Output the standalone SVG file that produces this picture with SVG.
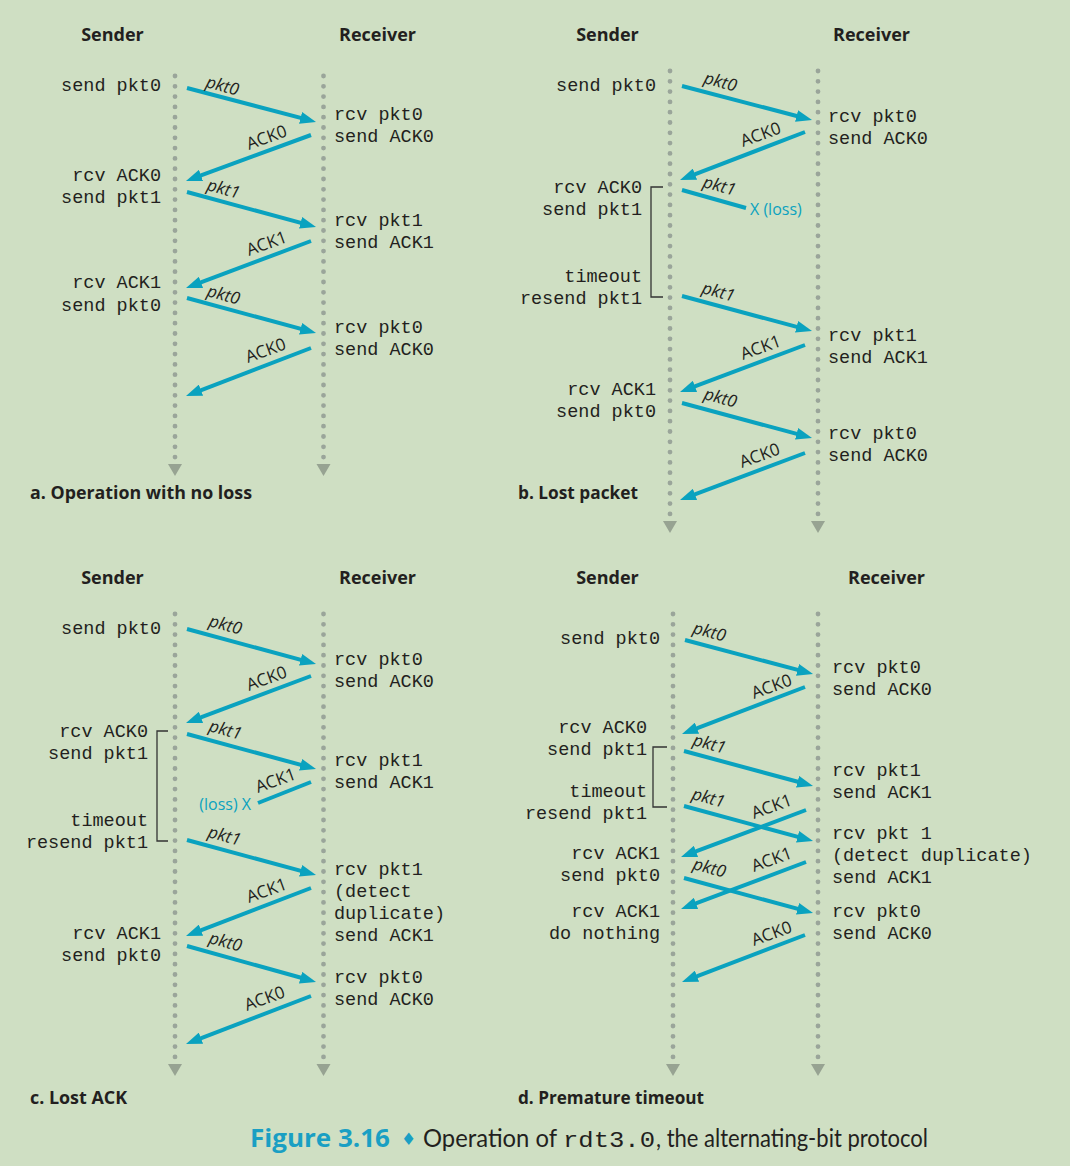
<svg xmlns="http://www.w3.org/2000/svg" width="1070" height="1166" viewBox="0 0 1070 1166">
<defs>
<style>
.bg{fill:#cfdfc3}
.hd{font-family:"Open Sans","Liberation Sans",sans-serif;font-weight:bold;font-size:18px;fill:#231f20;text-anchor:middle}
.sub{font-family:"Open Sans","Liberation Sans",sans-serif;font-weight:bold;font-size:18px;fill:#231f20}
.m{font-family:"Liberation Mono","DejaVu Sans Mono",monospace;font-size:18.5px;fill:#231f20}
.r{text-anchor:end}
.pk{font-family:"Open Sans","Liberation Sans",sans-serif;font-style:italic;font-size:17px;fill:#231f20}
.ak{font-family:"Open Sans","Liberation Sans",sans-serif;font-size:17px;fill:#231f20}
.ls{font-family:"Open Sans","Liberation Sans",sans-serif;font-size:16px;fill:#0aa2bf}
.life{stroke:#9aa59a;stroke-width:4.8;stroke-linecap:round;stroke-dasharray:0 10.3;fill:none}
.tri{fill:#97a392}
.ar{stroke:#0aa2bf;stroke-width:4;fill:none;marker-end:url(#ah)}
.lo{stroke:#0aa2bf;stroke-width:4;fill:none}
.br{stroke:#333;stroke-width:1.3;fill:none}
</style>
<marker id="ah" viewBox="0 0 16 12" refX="8" refY="6" markerWidth="16" markerHeight="12" markerUnits="userSpaceOnUse" orient="auto">
<path d="M0,0 L16,6 L0,12 z" fill="#0aa2bf"/>
</marker>
</defs>
<rect class="bg" x="0" y="0" width="1070" height="1166"/>

<!-- Lifelines -->
<g id="lifelines">
<line class="life" x1="175" y1="76" x2="175" y2="459"/>
<line class="life" x1="323.5" y1="76" x2="323.5" y2="459"/>
<path class="tri" d="M168,464 L182,464 L175,476 z"/>
<path class="tri" d="M316.5,464 L330.5,464 L323.5,476 z"/>
<line class="life" x1="670" y1="71" x2="670" y2="514"/>
<line class="life" x1="818" y1="71" x2="818" y2="514"/>
<path class="tri" d="M663,521 L677,521 L670,533 z"/>
<path class="tri" d="M811,521 L825,521 L818,533 z"/>
<line class="life" x1="175" y1="614" x2="175" y2="1058"/>
<line class="life" x1="323.5" y1="614" x2="323.5" y2="1058"/>
<path class="tri" d="M168,1064 L182,1064 L175,1076 z"/>
<path class="tri" d="M316.5,1064 L330.5,1064 L323.5,1076 z"/>
<line class="life" x1="673" y1="614" x2="673" y2="1058"/>
<line class="life" x1="818" y1="614" x2="818" y2="1058"/>
<path class="tri" d="M666,1064 L680,1064 L673,1076 z"/>
<path class="tri" d="M811,1064 L825,1064 L818,1076 z"/>
</g>

<!-- Headers -->
<g id="headers">
<text class="hd" x="112.5" y="41">Sender</text>
<text class="hd" x="377.5" y="41">Receiver</text>
<text class="hd" x="607.5" y="41">Sender</text>
<text class="hd" x="871.5" y="41">Receiver</text>
<text class="hd" x="112.5" y="584">Sender</text>
<text class="hd" x="377.5" y="584">Receiver</text>
<text class="hd" x="607.5" y="584">Sender</text>
<text class="hd" x="886.5" y="584">Receiver</text>
</g>

<!-- Connectors -->
<g id="connectors">
<line class="ar" x1="187" y1="88" x2="308.3" y2="119.9"/>
<line class="ar" x1="311" y1="135" x2="193.5" y2="178.2"/>
<line class="ar" x1="187" y1="192" x2="308.3" y2="224.9"/>
<line class="ar" x1="311" y1="241" x2="193.5" y2="285.2"/>
<line class="ar" x1="187" y1="298" x2="308.3" y2="330.9"/>
<line class="ar" x1="311" y1="348" x2="193.5" y2="393.1"/>

<line class="ar" x1="682" y1="86" x2="804.3" y2="118"/>
<line class="ar" x1="805" y1="132" x2="687.5" y2="177.1"/>
<line class="lo" x1="682" y1="190" x2="746" y2="208"/>
<line class="ar" x1="682" y1="296" x2="804.3" y2="328.9"/>
<line class="ar" x1="805" y1="345" x2="687.5" y2="389.2"/>
<line class="ar" x1="682" y1="403" x2="804.3" y2="435.9"/>
<line class="ar" x1="805" y1="453" x2="687.5" y2="497.2"/>

<line class="ar" x1="187" y1="629" x2="308.3" y2="661.9"/>
<line class="ar" x1="311" y1="676" x2="193.5" y2="720.2"/>
<line class="ar" x1="187" y1="734" x2="308.3" y2="766.9"/>
<line class="lo" x1="311" y1="782" x2="258" y2="803"/>
<line class="ar" x1="187" y1="840" x2="308.3" y2="872.9"/>
<line class="ar" x1="311" y1="888" x2="193.5" y2="933.1"/>
<line class="ar" x1="187" y1="946" x2="308.3" y2="979.8"/>
<line class="ar" x1="311" y1="996" x2="193.5" y2="1041.1"/>

<line class="ar" x1="685" y1="640" x2="805.3" y2="671.9"/>
<line class="ar" x1="805" y1="687" x2="689.5" y2="731.1"/>
<line class="ar" x1="684" y1="751" x2="805.3" y2="783.8"/>
<line class="ar" x1="684" y1="806" x2="805.3" y2="838.9"/>
<line class="ar" x1="806" y1="810" x2="688.5" y2="854.2"/>
<line class="ar" x1="806" y1="862" x2="688.5" y2="906.2"/>
<line class="ar" x1="684" y1="878" x2="805.3" y2="910.9"/>
<line class="ar" x1="805" y1="935" x2="689.5" y2="979.1"/>

<path class="br" d="M663,187 H651 V297 H663"/>
<path class="br" d="M168,731 H157 V841 H168"/>
<path class="br" d="M667,747 H653 V807 H667"/>
</g>

<!-- Connector labels -->
<g id="labels">
<text class="pk" transform="translate(205,87) rotate(15)">pkt0</text>
<text class="ak" transform="translate(249,150) rotate(-20)">ACK0</text>
<text class="pk" transform="translate(206,190) rotate(15)">pkt1</text>
<text class="ak" transform="translate(249,256) rotate(-20)">ACK1</text>
<text class="pk" transform="translate(206,296) rotate(15)">pkt0</text>
<text class="ak" transform="translate(248,363) rotate(-20)">ACK0</text>

<text class="pk" transform="translate(703,83) rotate(15)">pkt0</text>
<text class="ak" transform="translate(743,147) rotate(-20)">ACK0</text>
<text class="pk" transform="translate(702,187) rotate(15)">pkt1</text>
<text class="ls" x="750" y="215">X (loss)</text>
<text class="pk" transform="translate(701,293) rotate(15)">pkt1</text>
<text class="ak" transform="translate(743,360) rotate(-20)">ACK1</text>
<text class="pk" transform="translate(703,399) rotate(15)">pkt0</text>
<text class="ak" transform="translate(742,468) rotate(-20)">ACK0</text>

<text class="pk" transform="translate(208,626) rotate(15)">pkt0</text>
<text class="ak" transform="translate(249,691) rotate(-20)">ACK0</text>
<text class="pk" transform="translate(208,731) rotate(15)">pkt1</text>
<text class="ak" transform="translate(258,793) rotate(-20)">ACK1</text>
<text class="ls r" x="251" y="810">(loss) X</text>
<text class="pk" transform="translate(207,837) rotate(15)">pkt1</text>
<text class="ak" transform="translate(249,903) rotate(-20)">ACK1</text>
<text class="pk" transform="translate(208,943) rotate(15)">pkt0</text>
<text class="ak" transform="translate(247,1011) rotate(-20)">ACK0</text>

<text class="pk" transform="translate(692,633) rotate(15)">pkt0</text>
<text class="ak" transform="translate(754,699) rotate(-20)">ACK0</text>
<text class="pk" transform="translate(692,745) rotate(15)">pkt1</text>
<text class="pk" transform="translate(691,799) rotate(15)">pkt1</text>
<text class="ak" transform="translate(754,819) rotate(-20)">ACK1</text>
<text class="ak" transform="translate(754,872) rotate(-20)">ACK1</text>
<text class="pk" transform="translate(692,869) rotate(15)">pkt0</text>
<text class="ak" transform="translate(754,946) rotate(-20)">ACK0</text>
</g>

<!-- Panel a events -->
<g id="events-a">
<text class="m r" x="161" y="91">send pkt0</text>
<text class="m" x="334" y="120">rcv pkt0</text>
<text class="m" x="334" y="142">send ACK0</text>
<text class="m r" x="161" y="181">rcv ACK0</text>
<text class="m r" x="161" y="203">send pkt1</text>
<text class="m" x="334" y="226">rcv pkt1</text>
<text class="m" x="334" y="248">send ACK1</text>
<text class="m r" x="161" y="288">rcv ACK1</text>
<text class="m r" x="161" y="311">send pkt0</text>
<text class="m" x="334" y="333">rcv pkt0</text>
<text class="m" x="334" y="355">send ACK0</text>
</g>

<!-- Panel b events -->
<g id="events-b">
<text class="m r" x="656" y="91">send pkt0</text>
<text class="m" x="828" y="122">rcv pkt0</text>
<text class="m" x="828" y="144">send ACK0</text>
<text class="m r" x="642" y="193">rcv ACK0</text>
<text class="m r" x="642" y="215">send pkt1</text>
<text class="m r" x="642" y="282">timeout</text>
<text class="m r" x="642" y="304">resend pkt1</text>
<text class="m" x="828" y="341">rcv pkt1</text>
<text class="m" x="828" y="363">send ACK1</text>
<text class="m r" x="656" y="395">rcv ACK1</text>
<text class="m r" x="656" y="417">send pkt0</text>
<text class="m" x="828" y="439">rcv pkt0</text>
<text class="m" x="828" y="461">send ACK0</text>
</g>

<!-- Panel c events -->
<g id="events-c">
<text class="m r" x="161" y="634">send pkt0</text>
<text class="m" x="334" y="665">rcv pkt0</text>
<text class="m" x="334" y="687">send ACK0</text>
<text class="m r" x="148" y="737">rcv ACK0</text>
<text class="m r" x="148" y="759">send pkt1</text>
<text class="m" x="334" y="766">rcv pkt1</text>
<text class="m" x="334" y="788">send ACK1</text>
<text class="m r" x="148" y="826">timeout</text>
<text class="m r" x="148" y="848">resend pkt1</text>
<text class="m" x="334" y="875">rcv pkt1</text>
<text class="m" x="334" y="897">(detect</text>
<text class="m" x="334" y="919">duplicate)</text>
<text class="m" x="334" y="941">send ACK1</text>
<text class="m r" x="161" y="939">rcv ACK1</text>
<text class="m r" x="161" y="961">send pkt0</text>
<text class="m" x="334" y="983">rcv pkt0</text>
<text class="m" x="334" y="1005">send ACK0</text>
</g>

<!-- Panel d events -->
<g id="events-d">
<text class="m r" x="660" y="644">send pkt0</text>
<text class="m" x="832" y="673">rcv pkt0</text>
<text class="m" x="832" y="695">send ACK0</text>
<text class="m r" x="647" y="733">rcv ACK0</text>
<text class="m r" x="647" y="755">send pkt1</text>
<text class="m" x="832" y="776">rcv pkt1</text>
<text class="m" x="832" y="798">send ACK1</text>
<text class="m r" x="647" y="797">timeout</text>
<text class="m r" x="647" y="819">resend pkt1</text>
<text class="m" x="832" y="839">rcv pkt 1</text>
<text class="m" x="832" y="861">(detect duplicate)</text>
<text class="m" x="832" y="883">send ACK1</text>
<text class="m r" x="660" y="859">rcv ACK1</text>
<text class="m r" x="660" y="881">send pkt0</text>
<text class="m r" x="660" y="917">rcv ACK1</text>
<text class="m r" x="660" y="939">do nothing</text>
<text class="m" x="832" y="917">rcv pkt0</text>
<text class="m" x="832" y="939">send ACK0</text>
</g>

<!-- Subcaptions -->
<g id="subcaptions">
<text class="sub" x="30" y="499" textLength="222" lengthAdjust="spacingAndGlyphs">a. Operation with no loss</text>
<text class="sub" x="518" y="499" textLength="120" lengthAdjust="spacingAndGlyphs">b. Lost packet</text>
<text class="sub" x="30" y="1104" textLength="97" lengthAdjust="spacingAndGlyphs">c. Lost ACK</text>
<text class="sub" x="518" y="1104" textLength="186" lengthAdjust="spacingAndGlyphs">d. Premature timeout</text>
</g>

<!-- Caption -->
<g id="caption">
<text x="250" y="1147" font-family="'Open Sans','Liberation Sans',sans-serif" font-weight="bold" font-size="25" fill="#1a9fc3" textLength="140" lengthAdjust="spacingAndGlyphs">Figure 3.16</text>
<text x="401" y="1145" font-family="'DejaVu Sans',sans-serif" font-size="17" fill="#1a9fc3">♦</text>
<text x="423" y="1147" font-family="Lato,'Open Sans',sans-serif" font-size="25" fill="#231f20" textLength="134" lengthAdjust="spacingAndGlyphs">Operation of</text>
<text x="563" y="1147" font-family="'Liberation Mono',monospace" font-size="22" fill="#231f20" textLength="92" lengthAdjust="spacingAndGlyphs">rdt3.0</text>
<text x="656" y="1147" font-family="Lato,'Open Sans',sans-serif" font-size="25" fill="#231f20" textLength="272" lengthAdjust="spacingAndGlyphs">, the alternating-bit protocol</text>
</g>
</svg>
